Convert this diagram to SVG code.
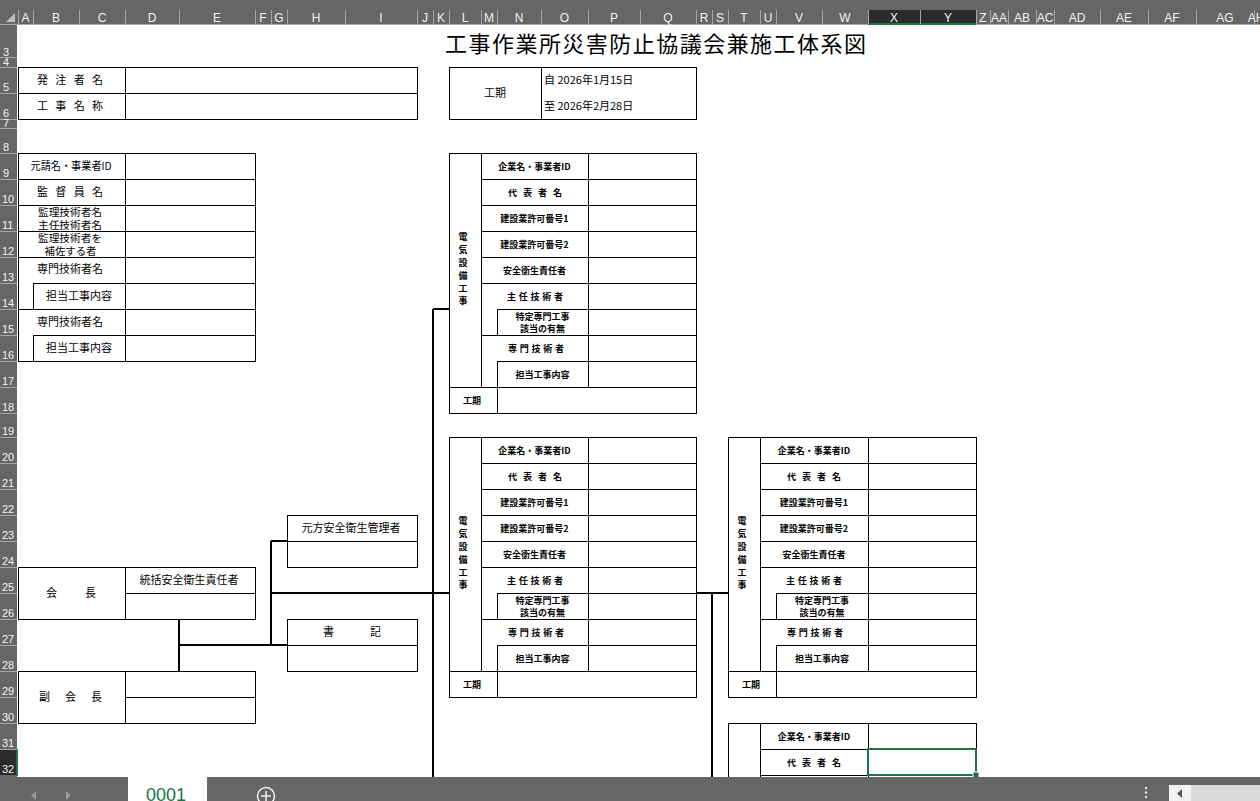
<svg xmlns="http://www.w3.org/2000/svg" width="1260" height="801" viewBox="0 0 1260 801">
<style>
.bg{fill:#ffffff}
.hdr{fill:#666666}
.sep{stroke:#a6a6a6;stroke-width:1;shape-rendering:crispEdges}
.hl{font-family:"Liberation Sans",Arial,sans-serif;font-size:12px;fill:#f2f2f2;text-anchor:middle}
.rn{font-family:"Liberation Sans Narrow","Liberation Sans",Arial,sans-serif;font-size:11px;fill:#f2f2f2}
.ln{stroke:#000;stroke-width:1;fill:none;shape-rendering:crispEdges}
.cn{stroke:#000;stroke-width:2;fill:none;shape-rendering:crispEdges}
.t11{font-family:"Noto Sans CJK JP","Noto Sans CJK SC",sans-serif;font-size:11px;fill:#000}
.t10{font-family:"Noto Sans CJK JP","Noto Sans CJK SC",sans-serif;font-size:10px;fill:#000}
.t9{font-family:"Noto Sans CJK JP","Noto Sans CJK SC",sans-serif;font-size:9px;font-weight:bold;fill:#000}
.mid{text-anchor:middle}
.title{font-family:"Noto Sans CJK JP","Noto Sans CJK SC",sans-serif;font-size:22px;fill:#000}
</style>

<rect class="bg" x="0" y="0" width="1260" height="801"/>

<!-- column header -->
<g id="colHeader">
<rect class="hdr" x="0" y="0" width="1260" height="25"/>
<rect x="868" y="10" width="108" height="14" fill="#2b2b2b"/>
<rect x="868" y="23" width="108" height="2" fill="#217346"/>
<line class="sep" x1="0" y1="24.5" x2="868" y2="24.5"/>
<line class="sep" x1="976" y1="24.5" x2="1260" y2="24.5"/>
<polygon points="15,13 15,22 6,22" fill="#bdbdbd"/>
<path class="sep" d="M18 10V24M33 10V24M79 10V24M125 10V24M179 10V24M255 10V24M271 10V24M287 10V24M345 10V24M417 10V24M433 10V24M449 10V24M481 10V24M497 10V24M541 10V24M588 10V24M640 10V24M696 10V24M712 10V24M728 10V24M760 10V24M776 10V24M822 10V24M868 10V24M920 10V24M976 10V24M990 10V24M1008 10V24M1036 10V24M1054 10V24M1100 10V24M1148 10V24M1196 10V24M1254 10V24"/>
<text class="hl" x="25.5" y="22">A</text>
<text class="hl" x="56" y="22">B</text>
<text class="hl" x="102" y="22">C</text>
<text class="hl" x="152" y="22">D</text>
<text class="hl" x="217" y="22">E</text>
<text class="hl" x="263" y="22">F</text>
<text class="hl" x="279" y="22">G</text>
<text class="hl" x="316" y="22">H</text>
<text class="hl" x="381" y="22">I</text>
<text class="hl" x="425" y="22">J</text>
<text class="hl" x="441" y="22">K</text>
<text class="hl" x="465" y="22">L</text>
<text class="hl" x="489" y="22">M</text>
<text class="hl" x="519" y="22">N</text>
<text class="hl" x="564.5" y="22">O</text>
<text class="hl" x="614" y="22">P</text>
<text class="hl" x="668" y="22">Q</text>
<text class="hl" x="704" y="22">R</text>
<text class="hl" x="720" y="22">S</text>
<text class="hl" x="744" y="22">T</text>
<text class="hl" x="768" y="22">U</text>
<text class="hl" x="799" y="22">V</text>
<text class="hl" x="845" y="22">W</text>
<text class="hl" x="894" y="22">X</text>
<text class="hl" x="948" y="22">Y</text>
<text class="hl" x="983" y="22">Z</text>
<text class="hl" x="999" y="22">AA</text>
<text class="hl" x="1022" y="22">AB</text>
<text class="hl" x="1045" y="22">AC</text>
<text class="hl" x="1077" y="22">AD</text>
<text class="hl" x="1124" y="22">AE</text>
<text class="hl" x="1172" y="22">AF</text>
<text class="hl" x="1225" y="22">AG</text>
<text class="hl" x="1256" y="22" text-anchor="start">AH</text>
</g>

<!-- row header -->
<g id="rowHeader">
<rect class="hdr" x="0" y="25" width="17" height="752"/>
<rect x="0" y="749" width="17" height="26" fill="#2b2b2b"/>
<rect x="16" y="749" width="2" height="27" fill="#217346"/>
<path class="sep" d="M0 57.5H17M0 67.5H17M0 93.5H17M0 119.5H17M0 128.5H17M0 153.5H17M0 179.5H17M0 205.5H17M0 231.5H17M0 257.5H17M0 283.5H17M0 309.5H17M0 335.5H17M0 361.5H17M0 387.5H17M0 413.5H17M0 437.5H17M0 463.5H17M0 489.5H17M0 515.5H17M0 541.5H17M0 567.5H17M0 593.5H17M0 619.5H17M0 645.5H17M0 671.5H17M0 697.5H17M0 723.5H17M0 749.5H17"/>
<text class="rn" x="3" y="56">3</text>
<text class="rn" x="3" y="66">4</text>
<text class="rn" x="3" y="91">5</text>
<text class="rn" x="3" y="117">6</text>
<text class="rn" x="3" y="127">7</text>
<text class="rn" x="3" y="151">8</text>
<text class="rn" x="3" y="177">9</text>
<text class="rn" x="2" y="203">10</text>
<text class="rn" x="2" y="229">11</text>
<text class="rn" x="2" y="255">12</text>
<text class="rn" x="2" y="281">13</text>
<text class="rn" x="2" y="307">14</text>
<text class="rn" x="2" y="333">15</text>
<text class="rn" x="2" y="359">16</text>
<text class="rn" x="2" y="385">17</text>
<text class="rn" x="2" y="411">18</text>
<text class="rn" x="2" y="435">19</text>
<text class="rn" x="2" y="461">20</text>
<text class="rn" x="2" y="487">21</text>
<text class="rn" x="2" y="513">22</text>
<text class="rn" x="2" y="539">23</text>
<text class="rn" x="2" y="565">24</text>
<text class="rn" x="2" y="591">25</text>
<text class="rn" x="2" y="617">26</text>
<text class="rn" x="2" y="643">27</text>
<text class="rn" x="2" y="669">28</text>
<text class="rn" x="2" y="695">29</text>
<text class="rn" x="2" y="721">30</text>
<text class="rn" x="2" y="747">31</text>
<text class="rn" x="2" y="773">32</text>
</g>

<!-- title -->
<g id="title">
<text class="title" x="445" y="52" textLength="421" lengthAdjust="spacing">工事作業所災害防止協議会兼施工体系図</text>
</g>

<!-- order / project name -->
<g id="projectInfo">
<rect class="ln" x="18" y="67" width="399" height="52"/>
<path class="ln" d="M125 67V119M18 93H417"/>
<text class="t11" x="37" y="84" textLength="66" lengthAdjust="spacing">発注者名</text>
<text class="t11" x="37" y="110" textLength="66" lengthAdjust="spacing">工事名称</text>
</g>

<!-- construction period -->
<g id="period">
<rect class="ln" x="449" y="67" width="247" height="52"/>
<path class="ln" d="M541 67V119"/>
<text class="t11 mid" x="495" y="97">工期</text>
<text class="t11" x="544" y="84">自 2026年1月15日</text>
<text class="t11" x="544" y="110">至 2026年2月28日</text>
</g>

<!-- prime contractor -->
<g id="primeContractor">
<rect class="ln" x="18" y="153" width="237" height="208"/>
<path class="ln" d="M125 153V361M18 179H255M18 205H255M18 231H255M18 257H255M33 283H255M18 309H255M33 335H255M33 283V309M33 335V361"/>
<text class="t11 mid" x="71" y="170" textLength="81" lengthAdjust="spacingAndGlyphs">元請名・事業者ID</text>
<text class="t11" x="37" y="196" textLength="66" lengthAdjust="spacing">監督員名</text>
<text class="t10 mid" x="70" y="216" textLength="64" lengthAdjust="spacingAndGlyphs">監理技術者名</text>
<text class="t10 mid" x="70" y="229" textLength="64" lengthAdjust="spacingAndGlyphs">主任技術者名</text>
<text class="t10 mid" x="70" y="242" textLength="64" lengthAdjust="spacingAndGlyphs">監理技術者を</text>
<text class="t10 mid" x="70.5" y="255" textLength="52" lengthAdjust="spacingAndGlyphs">補佐する者</text>
<text class="t11 mid" x="70" y="273">専門技術者名</text>
<text class="t11 mid" x="79" y="300">担当工事内容</text>
<text class="t11 mid" x="70" y="325.5">専門技術者名</text>
<text class="t11 mid" x="79" y="352">担当工事内容</text>
</g>

<!-- chairman -->
<g id="chairman">
<rect class="ln" x="18" y="567" width="237" height="52"/>
<path class="ln" d="M125 567V619M125 593H255"/>
<text class="t11" x="46" y="597" textLength="50" lengthAdjust="spacing">会長</text>
<text class="t11 mid" x="189" y="584">統括安全衛生責任者</text>
</g>

<!-- vice chairman -->
<g id="viceChairman">
<rect class="ln" x="18" y="671" width="237" height="52"/>
<path class="ln" d="M125 671V723M125 697H255"/>
<text class="t11" x="39" y="701" textLength="63" lengthAdjust="spacing">副会長</text>
</g>

<!-- safety manager -->
<g id="safetyManager">
<rect class="ln" x="287" y="515" width="130" height="52"/>
<path class="ln" d="M287 541H417"/>
<text class="t11 mid" x="351" y="532">元方安全衛生管理者</text>
</g>

<!-- secretary -->
<g id="secretary">
<rect class="ln" x="287" y="619" width="130" height="52"/>
<path class="ln" d="M287 645H417"/>
<text class="t11" x="323" y="636" textLength="58" lengthAdjust="spacing">書記</text>
</g>

<!-- subcontractor table 1 -->
<g id="sub1" transform="translate(449,153)">
<rect class="ln" x="0" y="0" width="247" height="260"/>
<path class="ln" d="M32 0V234M139 0V234M48 234V260M32 26H247M32 52H247M32 78H247M32 104H247M32 130H247M48 156H247M48 156V182M32 182H247M48 208H247M48 208V234M0 234H247"/>
<text class="t9" x="14" y="87.4" text-anchor="middle">電</text>
<text class="t9" x="14" y="100.2" text-anchor="middle">気</text>
<text class="t9" x="14" y="113" text-anchor="middle">設</text>
<text class="t9" x="14" y="125.8" text-anchor="middle">備</text>
<text class="t9" x="14" y="138.6" text-anchor="middle">工</text>
<text class="t9" x="14" y="151.4" text-anchor="middle">事</text>
<text class="t9 mid" x="85.5" y="16.5">企業名・事業者ID</text>
<text class="t9" x="59" y="42.5" textLength="54" lengthAdjust="spacing">代表者名</text>
<text class="t9 mid" x="85.5" y="68.5">建設業許可番号1</text>
<text class="t9 mid" x="85.5" y="94.5">建設業許可番号2</text>
<text class="t9 mid" x="85.5" y="120.5">安全衛生責任者</text>
<text class="t9" x="58" y="146.5" textLength="56" lengthAdjust="spacing">主任技術者</text>
<text class="t9 mid" x="93.5" y="166.5">特定専門工事</text>
<text class="t9 mid" x="93.5" y="178.5">該当の有無</text>
<text class="t9" x="59" y="198.5" textLength="56" lengthAdjust="spacing">専門技術者</text>
<text class="t9 mid" x="93.5" y="224.5">担当工事内容</text>
<text class="t9 mid" x="23" y="250.5">工期</text>
</g>

<!-- subcontractor table 2 -->
<g id="sub2" transform="translate(449,437)">
<rect class="ln" x="0" y="0" width="247" height="260"/>
<path class="ln" d="M32 0V234M139 0V234M48 234V260M32 26H247M32 52H247M32 78H247M32 104H247M32 130H247M48 156H247M48 156V182M32 182H247M48 208H247M48 208V234M0 234H247"/>
<text class="t9" x="14" y="87.4" text-anchor="middle">電</text>
<text class="t9" x="14" y="100.2" text-anchor="middle">気</text>
<text class="t9" x="14" y="113" text-anchor="middle">設</text>
<text class="t9" x="14" y="125.8" text-anchor="middle">備</text>
<text class="t9" x="14" y="138.6" text-anchor="middle">工</text>
<text class="t9" x="14" y="151.4" text-anchor="middle">事</text>
<text class="t9 mid" x="85.5" y="16.5">企業名・事業者ID</text>
<text class="t9" x="59" y="42.5" textLength="54" lengthAdjust="spacing">代表者名</text>
<text class="t9 mid" x="85.5" y="68.5">建設業許可番号1</text>
<text class="t9 mid" x="85.5" y="94.5">建設業許可番号2</text>
<text class="t9 mid" x="85.5" y="120.5">安全衛生責任者</text>
<text class="t9" x="58" y="146.5" textLength="56" lengthAdjust="spacing">主任技術者</text>
<text class="t9 mid" x="93.5" y="166.5">特定専門工事</text>
<text class="t9 mid" x="93.5" y="178.5">該当の有無</text>
<text class="t9" x="59" y="198.5" textLength="56" lengthAdjust="spacing">専門技術者</text>
<text class="t9 mid" x="93.5" y="224.5">担当工事内容</text>
<text class="t9 mid" x="23" y="250.5">工期</text>
</g>

<!-- subcontractor table 3 -->
<g id="sub3" transform="translate(728,437)">
<rect class="ln" x="0" y="0" width="248" height="260"/>
<path class="ln" d="M32 0V234M140 0V234M48 234V260M32 26H248M32 52H248M32 78H248M32 104H248M32 130H248M48 156H248M48 156V182M32 182H248M48 208H248M48 208V234M0 234H248"/>
<text class="t9" x="14" y="87.4" text-anchor="middle">電</text>
<text class="t9" x="14" y="100.2" text-anchor="middle">気</text>
<text class="t9" x="14" y="113" text-anchor="middle">設</text>
<text class="t9" x="14" y="125.8" text-anchor="middle">備</text>
<text class="t9" x="14" y="138.6" text-anchor="middle">工</text>
<text class="t9" x="14" y="151.4" text-anchor="middle">事</text>
<text class="t9 mid" x="86" y="16.5">企業名・事業者ID</text>
<text class="t9" x="59" y="42.5" textLength="54" lengthAdjust="spacing">代表者名</text>
<text class="t9 mid" x="86" y="68.5">建設業許可番号1</text>
<text class="t9 mid" x="86" y="94.5">建設業許可番号2</text>
<text class="t9 mid" x="86" y="120.5">安全衛生責任者</text>
<text class="t9" x="58" y="146.5" textLength="56" lengthAdjust="spacing">主任技術者</text>
<text class="t9 mid" x="94" y="166.5">特定専門工事</text>
<text class="t9 mid" x="94" y="178.5">該当の有無</text>
<text class="t9" x="59" y="198.5" textLength="56" lengthAdjust="spacing">専門技術者</text>
<text class="t9 mid" x="94" y="224.5">担当工事内容</text>
<text class="t9 mid" x="23" y="250.5">工期</text>
</g>

<!-- subcontractor table 4 (partially visible) -->
<g id="sub4" transform="translate(728,723)">
<path class="ln" d="M0 0H248M0 0V60M32 0V60M140 0V60M248 0V60M32 26H248M32 52H248"/>
<text class="t9 mid" x="86" y="16.5">企業名・事業者ID</text>
<text class="t9" x="59" y="42.5" textLength="54" lengthAdjust="spacing">代表者名</text>
</g>

<!-- connectors -->
<g id="connectors">
<path class="cn" d="M179 619V671"/>
<path class="cn" d="M179 645H287"/>
<path class="cn" d="M271 541V645"/>
<path class="cn" d="M271 541H287"/>
<path class="cn" d="M271 593H449"/>
<path class="cn" d="M433 309V780"/>
<path class="cn" d="M433 309H449"/>
<path class="cn" d="M696 593H728"/>
<path class="cn" d="M712 593V780"/>
</g>

<!-- selected cell -->
<g id="selection">
<rect x="868" y="749" width="108" height="26" fill="none" stroke="#217346" stroke-width="2"/>
<rect x="973" y="772" width="6" height="6" fill="#217346" stroke="#ffffff" stroke-width="1"/>
</g>

<!-- sheet tab bar -->
<g id="tabBar">
<rect x="0" y="777" width="1260" height="24" fill="#666666"/>
<polygon points="36,791 36,800 31,795.5" fill="#9a9a9a"/>
<polygon points="66,791 66,800 71,795.5" fill="#9a9a9a"/>
<rect x="128" y="777" width="79" height="24" fill="#ffffff"/>
<text x="146" y="801" font-family="'Liberation Sans',Arial,sans-serif" font-size="18" fill="#217346">0001</text>
<circle cx="266" cy="796" r="8.5" fill="none" stroke="#f2f2f2" stroke-width="1.5"/>
<path d="M261 796H271M266 791V801" stroke="#f2f2f2" stroke-width="1.5"/>
<circle cx="1146" cy="788" r="1.2" fill="#e6e6e6"/>
<circle cx="1146" cy="792.5" r="1.2" fill="#e6e6e6"/>
<circle cx="1146" cy="797" r="1.2" fill="#e6e6e6"/>
<rect x="1169" y="785" width="22" height="16" fill="#f2f2f2"/>
<polygon points="1182,789 1182,798 1177,793.5" fill="#555555"/>
<rect x="1191" y="785" width="69" height="16" fill="#dadada"/>
</g>
</svg>
